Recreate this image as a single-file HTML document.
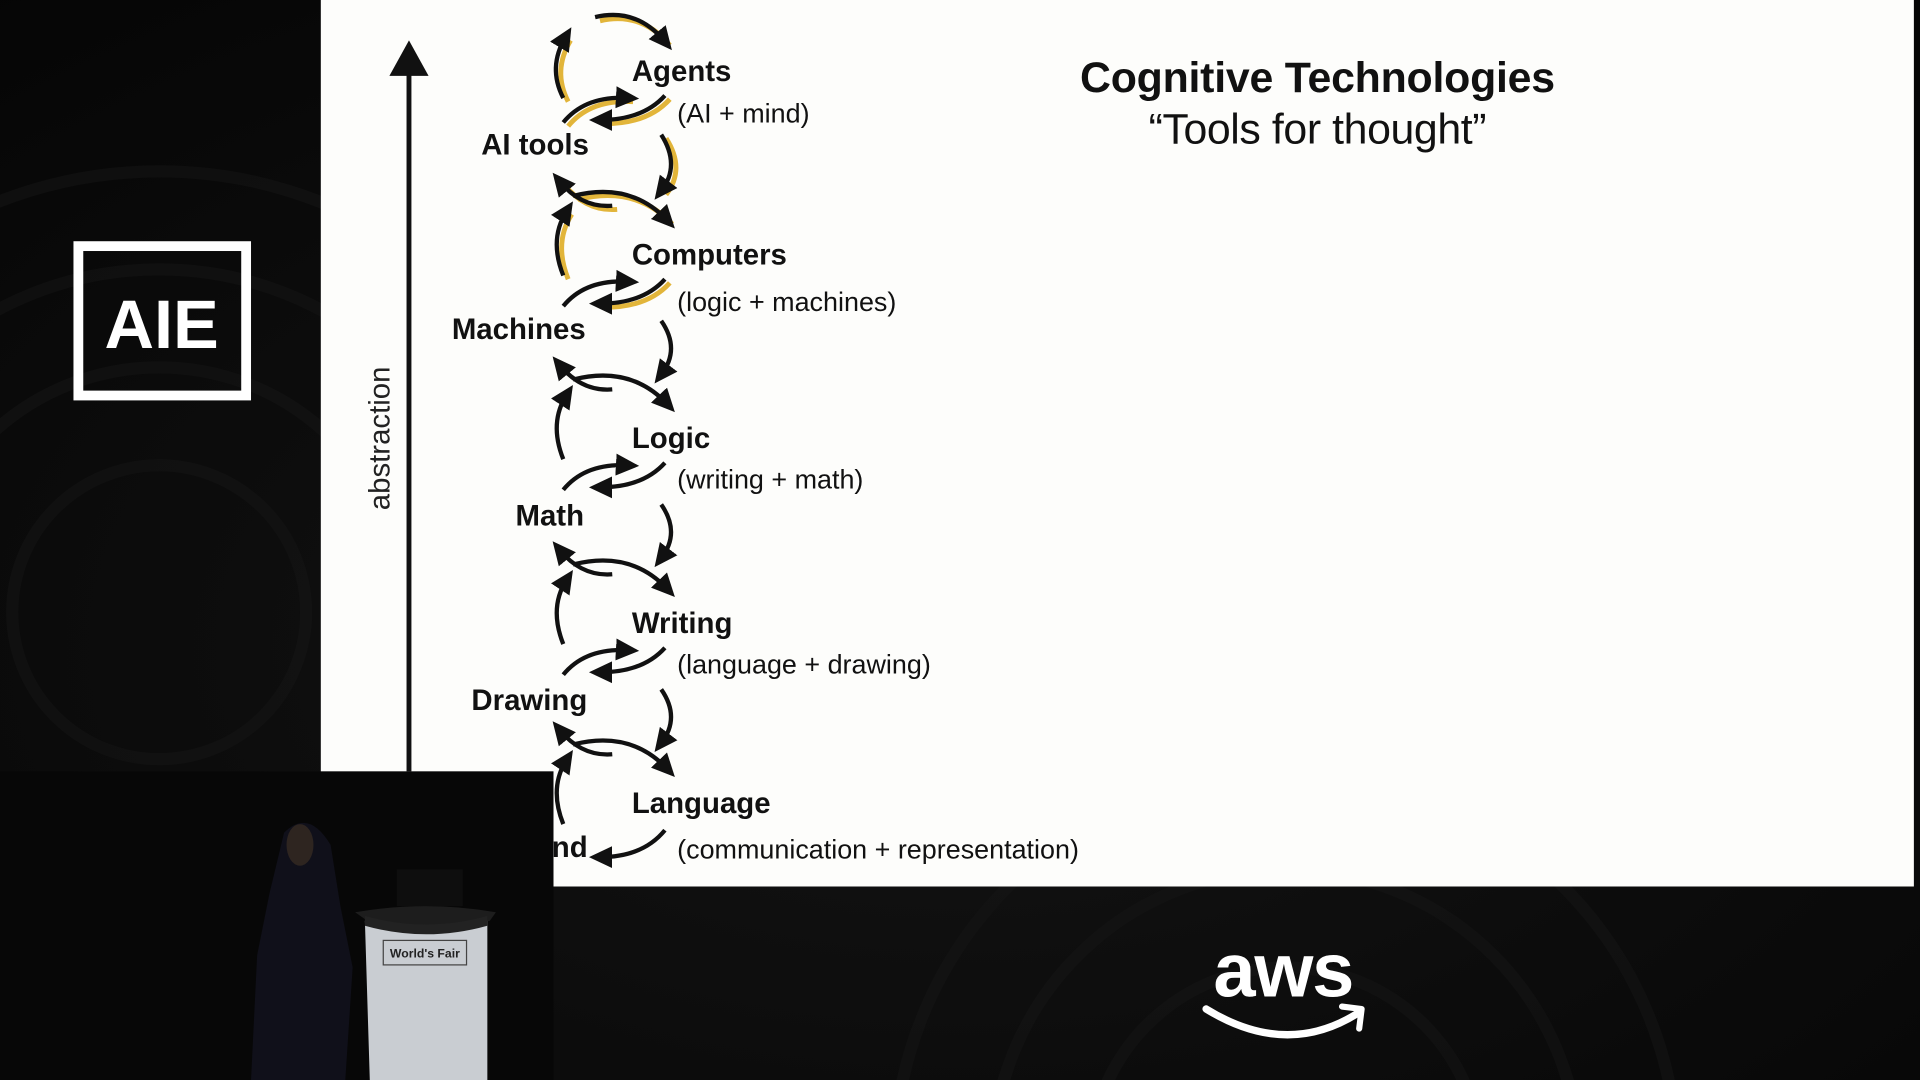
<!DOCTYPE html>
<html><head><meta charset="utf-8"><style>
html,body{margin:0;padding:0;background:#050505;overflow:hidden;width:1920px;height:1080px}
svg{display:block;position:absolute;left:0;top:0;overflow:hidden}
.lbl{font-family:"Liberation Sans Narrow","Liberation Sans",sans-serif;font-weight:bold;font-size:24px;fill:#111}
.sub{font-family:"Liberation Sans Narrow","Liberation Sans",sans-serif;font-size:22px;fill:#111}
</style></head><body>
<svg width="1920" height="1080" viewBox="0 0 1568 882" preserveAspectRatio="none" xmlns="http://www.w3.org/2000/svg">
<defs>
<marker id="ah" markerUnits="userSpaceOnUse" markerWidth="20" markerHeight="20" refX="10" refY="10" orient="auto">
<path d="M0,1 L19,10 L0,19 Z" fill="#111"/></marker>
<radialGradient id="bg" cx="0.5" cy="0.6" r="0.8">
<stop offset="0" stop-color="#141414"/><stop offset="1" stop-color="#050505"/></radialGradient>
<clipPath id="cl"><rect width="1568" height="882"/></clipPath>
</defs>
<rect width="1568" height="882" fill="url(#bg)"/>
<g fill="none" stroke="#161616" stroke-width="10" opacity="0.5" clip-path="url(#cl)">
<circle cx="130" cy="500" r="120"/><circle cx="130" cy="500" r="200"/><circle cx="130" cy="500" r="280"/><circle cx="130" cy="500" r="360"/>
<circle cx="1050" cy="950" r="160"/><circle cx="1050" cy="950" r="240"/><circle cx="1050" cy="950" r="320"/>
</g>
<path d="M262,0 H1563 V724 H452 V630 H262 Z" fill="#fdfdfb"/>
<rect x="64" y="201" width="137" height="122" fill="none" stroke="#fff" stroke-width="8"/>
<text x="132" y="284" text-anchor="middle" font-family="Liberation Sans,sans-serif" font-weight="bold" font-size="56" fill="#fff">AIE</text>
<line x1="334" y1="55" x2="334" y2="630" stroke="#111" stroke-width="4"/>
<path d="M318,62 L334,33 L350,62 Z" fill="#111"/>
<text transform="translate(318,358) rotate(-90)" text-anchor="middle" font-family="Liberation Sans,sans-serif" font-size="24" fill="#222">abstraction</text>
<text x="1076" y="75" text-anchor="middle" font-family="Liberation Sans,sans-serif" font-weight="bold" font-size="35" fill="#111" textLength="388">Cognitive Technologies</text>
<text x="1076" y="117" text-anchor="middle" font-family="Liberation Sans,sans-serif" font-size="35" fill="#111" textLength="276">“Tools for thought”</text>
<g fill="none" stroke="#e2b53a" stroke-width="4" transform="translate(4,3)">
<path d="M486,14 Q520,6 543,34"/>
<path d="M460,80 Q447,55 462,30"/>
<path d="M460,100 Q478,78 513,80"/><path d="M543,78 Q525,98 490,98"/>
<path d="M540,110 Q556,135 540,156"/>
<path d="M500,168 Q475,170 457,148"/><path d="M468,160 Q515,148 545,180"/>
<path d="M460,225 Q448,195 463,172"/>
<path d="M543,228 Q525,248 490,248"/>
</g>
<g fill="none" stroke="#111" stroke-width="3.5" marker-end="url(#ah)">
<path d="M486,14 Q520,6 543,34"/>
<path d="M460,80 Q447,55 462,30"/>
<path d="M460,100 Q478,78 513,80"/><path d="M543,78 Q525,98 490,98"/>
<path d="M540,110 Q556,135 540,156"/>
<path d="M500,168 Q475,170 457,148"/><path d="M468,160 Q515,148 545,180"/>
<path d="M460,225 Q448,195 463,172"/>
<path d="M460,250 Q478,228 513,230"/><path d="M543,228 Q525,248 490,248"/>
<path d="M540,262 Q556,285 540,306"/>
<path d="M500,318 Q475,320 457,298"/><path d="M468,310 Q515,298 545,330"/>
<path d="M460,375 Q448,345 463,322"/>
<path d="M460,400 Q478,378 513,380"/><path d="M543,378 Q525,398 490,398"/>
<path d="M540,412 Q556,435 540,456"/>
<path d="M500,469 Q475,471 457,449"/><path d="M468,461 Q515,449 545,481"/>
<path d="M460,526 Q448,496 463,473"/>
<path d="M460,551 Q478,529 513,531"/><path d="M543,529 Q525,549 490,549"/>
<path d="M540,563 Q556,586 540,607"/>
<path d="M500,616 Q475,618 457,596"/><path d="M468,608 Q515,596 545,628"/>
<path d="M460,673 Q448,643 463,620"/>
<path d="M543,678 Q525,700 490,700"/>
</g>
<text class="lbl" x="516" y="66">Agents</text>
<text class="sub" x="553" y="100">(AI + mind)</text>
<text class="lbl" x="393" y="126">AI tools</text>
<text class="lbl" x="516" y="216">Computers</text>
<text class="sub" x="553" y="254">(logic + machines)</text>
<text class="lbl" x="369" y="277">Machines</text>
<text class="lbl" x="516" y="366">Logic</text>
<text class="sub" x="553" y="399">(writing + math)</text>
<text class="lbl" x="421" y="429">Math</text>
<text class="lbl" x="516" y="517">Writing</text>
<text class="sub" x="553" y="550">(language + drawing)</text>
<text class="lbl" x="385" y="580">Drawing</text>
<text class="lbl" x="516" y="664">Language</text>
<text class="sub" x="553" y="701">(communication + representation)</text>
<text class="lbl" x="424" y="700">Mind</text>
<rect x="0" y="630" width="452" height="252" fill="#070707"/>
<path d="M232,680 Q252,660 270,690 L278,740 L288,790 L282,882 L205,882 L210,780 L220,730 Z" fill="#10101a"/>
<ellipse cx="245" cy="690" rx="11" ry="17" fill="#2e2520"/>
<rect x="324" y="710" width="54" height="30" fill="#0e0e0e"/>
<path d="M290,745 Q348,735 405,745 L400,752 Q348,760 300,752 Z" fill="#1d1d1d"/>
<path d="M298,752 Q348,765 398,752 L398,882 L302,882 Z" fill="#c9cdd2"/>
<path d="M298,748 Q348,762 398,748 L398,756 Q348,770 298,756 Z" fill="#222"/>
<rect x="313" y="768" width="68" height="20" fill="none" stroke="#444" stroke-width="1"/>
<text x="347" y="782" text-anchor="middle" font-family="Liberation Sans,sans-serif" font-weight="bold" font-size="10" fill="#222">World's Fair</text>
<text x="1048" y="814" text-anchor="middle" font-family="Liberation Sans,sans-serif" font-weight="bold" font-size="62" fill="#fff" letter-spacing="-1">aws</text>
<path d="M985,824 Q1050,864 1108,828" fill="none" stroke="#fff" stroke-width="6" stroke-linecap="round"/>
<path d="M1096,822 L1112,824 L1110,840" fill="none" stroke="#fff" stroke-width="5" stroke-linecap="round" stroke-linejoin="round"/>
</svg>
</body></html>
